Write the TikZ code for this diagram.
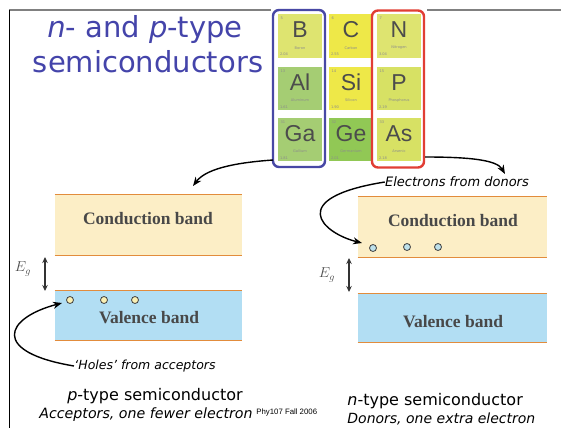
\documentclass[tikz,border=0pt]{standalone}
\usepackage{fontspec}
\usepackage{tikz}
\usetikzlibrary{arrows.meta}
\setmainfont{DejaVu Sans}
\newfontfamily\bandfont{Liberation Serif}
\newfontfamily\elemfont{Liberation Sans}

\definecolor{titleblue}{RGB}{68,68,170}
\definecolor{accblue}{RGB}{72,72,165}
\definecolor{donred}{RGB}{225,62,52}
\definecolor{condfill}{RGB}{252,238,198}
\definecolor{valfill}{RGB}{178,222,243}
\definecolor{edgeorange}{RGB}{226,140,60}
\definecolor{bandtext}{RGB}{72,72,72}
\definecolor{tileyg}{RGB}{222,228,112}
\definecolor{tiley}{RGB}{238,232,72}
\definecolor{tileg}{RGB}{165,205,115}
\definecolor{tilegg}{RGB}{145,200,85}
\definecolor{tilep}{RGB}{215,225,100}
\definecolor{holefill}{RGB}{250,240,180}
\definecolor{elecfill}{RGB}{190,225,235}

\begin{document}
\begin{tikzpicture}[x=1pt, y=-1pt, thick,
  tile/.style = {minimum width=44, minimum height=43, inner sep=0},
  elemsym/.style = {inner sep=0, text=black!70, font=\elemfont\fontsize{23}{23}\selectfont},
  elemsmall/.style = {inner sep=0, text=black!45, font=\fontsize{3.6}{4}\selectfont},
  group/.style = {draw, rounded corners=6, line width=2.4, minimum width=52, minimum height=157, inner sep=0},
  band/.style = {inner sep=0, minimum width=187},
  bandlabel/.style = {inner sep=0, text=bandtext, font=\bandfont\bfseries\fontsize{17.5}{18}\selectfont},
  edge/.style = {draw=edgeorange, line width=1.6},
  gap/.style = {{Stealth[length=6,width=5.5]}-{Stealth[length=6,width=5.5]}, line width=1.3, draw=black!80},
  dot/.style = {circle, draw=black!75, line width=0.8, minimum size=7, inner sep=0},
  curvearrow/.style = {-{Stealth[length=9,width=7]}, line width=1.4},
  note/.style = {inner sep=0, font=\itshape\fontsize{12.5}{13}\selectfont},
  caption/.style = {inner sep=0, font=\fontsize{16}{17}\selectfont},
  title/.style = {inner sep=0, text=titleblue, font=\fontsize{29}{30}\selectfont}]
\useasboundingbox (0,0) rectangle (561,428);

% frame of the slide
\draw[black!50, line width=1.2] (9,10) -- (561,10);
\draw[black, line width=1] (9,10) -- (9,428);

% title
\node[title] (title1) at (145,29) {\textit{n}- and \textit{p}-type};
\node[title] (title2) at (148,62) {semiconductors};

% periodic table part
\fill[white] (271,6) rectangle (427,170);
\foreach \tx/\ty/\tc/\tn/\ts/\tname/\tv in {300/36/tileyg/5/B/Boron/2.04, 351/36/tiley/6/C/Carbon/2.55, 399/36/tileyg/7/N/Nitrogen/3.04,
  300/88.5/tileg/13/Al/Aluminum/1.61, 351/88.5/tiley/14/Si/Silicon/1.90, 399/88.5/tilep/15/P/Phosphorus/2.19,
  300/139.5/tileg/31/Ga/Gallium/1.81, 351/139.5/tilegg/32/Ge/Germanium/2.01, 399/139.5/tilep/33/As/Arsenic/2.18}
{
  \node[tile, fill=\tc] (t\ts) at (\tx,\ty) {};
  \node[elemsym] (s\ts) at (\tx,\ty-6) {\ts};
  \node[elemsmall, anchor=north west] (n\ts) at ([shift={(2.5,2.5)}]t\ts.north west) {\tn};
  \node[elemsmall] (m\ts) at (\tx,\ty+12) {\tname};
  \node[elemsmall, anchor=south west] (v\ts) at ([shift={(2,-1.5)}]t\ts.south west) {\tv};
}
\node[group, draw=accblue] (accbox) at (299,88.5) {};
\node[group, draw=donred] (donbox) at (398,89) {};

% p-type band picture
\node[band, fill=condfill, minimum height=60] (lcond) at (148.5,225) {};
\node[band, fill=valfill, minimum height=49] (lval) at (148.5,315.5) {};
\draw[edge] (lcond.north west) -- (lcond.north east);
\draw[edge] (lcond.south west) -- (lcond.south east);
\draw[edge] (lval.north west) -- (lval.north east);
\draw[edge] (lval.south west) -- (lval.south east);
\node[bandlabel] (lcondtext) at (148,219) {Conduction band};
\node[bandlabel] (lvaltext) at (149,318) {Valence band};
\coordinate (lgtop) at (45,257);
\coordinate (lgbot) at (45,291);
\draw[gap] (lgtop) -- (lgbot);
\node[inner sep=0, text=black!70, font=\fontsize{14}{14}\selectfont] (leg) at (23,269) {$E_g$};
\node[dot, fill=holefill] (hole1) at (70,300) {};
\node[dot, fill=holefill] (hole2) at (104,300) {};
\node[dot, fill=holefill] (hole3) at (135,300) {};

% n-type band picture
\node[band, fill=condfill, minimum height=60, minimum width=189] (rcond) at (452.5,227) {};
\node[band, fill=valfill, minimum height=48, minimum width=189] (rval) at (452.5,318) {};
\draw[edge] (rcond.north west) -- (rcond.north east);
\draw[edge] (rcond.south west) -- (rcond.south east);
\draw[edge] (rval.north west) -- (rval.north east);
\draw[edge] (rval.south west) -- (rval.south east);
\node[bandlabel] (rcondtext) at (453,221) {Conduction band};
\node[bandlabel] (rvaltext) at (453,322) {Valence band};
\coordinate (rgtop) at (349,258);
\coordinate (rgbot) at (349,292);
\draw[gap] (rgtop) -- (rgbot);
\node[inner sep=0, text=black!70, font=\fontsize{14}{14}\selectfont] (reg) at (327,275) {$E_g$};
\node[dot, fill=elecfill] (elec1) at (373,248) {};
\node[dot, fill=elecfill] (elec2) at (407,247) {};
\node[dot, fill=elecfill] (elec3) at (438,247) {};

% curved arrows
\coordinate (accout) at (273,160);
\coordinate (ptarget) at (193,186);
\draw[curvearrow] (accout) .. controls (230,163) and (205,170) .. (ptarget);
\coordinate (donout) at (425,157);
\coordinate (ntarget) at (505,174);
\draw[curvearrow] (donout) .. controls (470,157) and (497,160) .. (ntarget);
\node[note, font=\itshape\fontsize{13}{13}\selectfont] (elabel) at (457,182) {Electrons from donors};
\coordinate (eend) at (362,243);
\draw[curvearrow] (elabel.west) .. controls (285,198) and (322,233) .. (eend);
\node[note] (hlabel) at (145,366) {`Holes' from acceptors};
\coordinate (hend) at (62,303);
\draw[curvearrow] (hlabel.west) .. controls (-10,352) and (5,318) .. (hend);

% captions
\node[caption] (ptype) at (155,396) {\textit{p}-type semiconductor};
\node[note, anchor=west, font=\itshape\fontsize{14.2}{15}\selectfont] (pnote) at (39,415) {Acceptors, one fewer electron};
\node[inner sep=0, anchor=west, font=\elemfont\fontsize{7.8}{8}\selectfont] (course) at (256,412) {Phy107 Fall 2006};
\node[caption, anchor=west] (ntype) at (347,401) {\textit{n}-type semiconductor};
\node[note, anchor=west, font=\itshape\fontsize{14}{15}\selectfont] (nnote) at (347,419) {Donors, one extra electron};
\end{tikzpicture}
\end{document}
